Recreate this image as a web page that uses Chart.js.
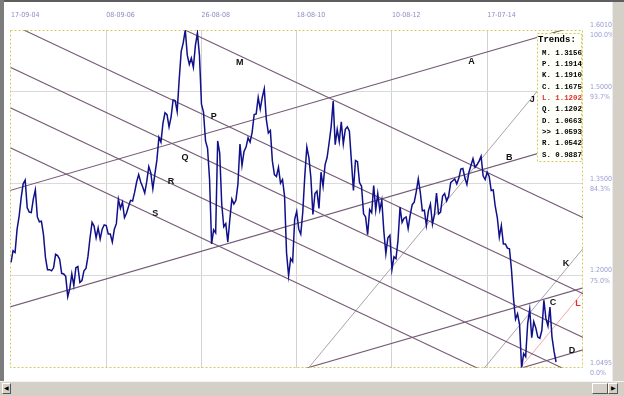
<!DOCTYPE html>
<html><head><meta charset="utf-8">
<script src="https://cdn.jsdelivr.net/npm/chart.js@4.4.1/dist/chart.umd.min.js"></script>
<style>
html,body{margin:0;padding:0;background:#fff;}
#wrap{position:relative;width:624px;height:396px;overflow:hidden;background:#fff;}
canvas{position:absolute;left:0;top:0;}
.f{position:absolute;box-sizing:border-box;}
</style></head><body>
<div id="wrap">
<canvas id="c" width="624" height="396"></canvas>
<div class="f" style="left:0;top:0;width:624px;height:2px;background:#5e5e5e"></div>
<div class="f" style="left:0;top:0;width:4px;height:382px;background:#7c7c7c"></div>
<div class="f" style="left:612px;top:2px;width:12px;height:380px;background:#d4d0c8;border-left:1px solid #ececec"></div>
<div class="f" style="left:0;top:381px;width:624px;height:15px;background:#d4d0c8;border-top:1px solid #f4f4f4"></div>
<div class="f" style="left:2px;top:383px;width:9px;height:11px;background:#d4d0c8;border:1px solid;border-color:#fff #555 #555 #fff;font:6px sans-serif;line-height:9px;text-align:center;color:#000">&#9664;</div>
<div class="f" style="left:592px;top:383px;width:16px;height:11px;background:#d4d0c8;border:1px solid;border-color:#fff #555 #555 #fff"></div>
<div class="f" style="left:608px;top:383px;width:10px;height:11px;background:#d4d0c8;border:1px solid;border-color:#fff #555 #555 #fff;font:6px sans-serif;line-height:9px;text-align:center;color:#000">&#9654;</div>
</div>
<script>
// ---- data ----
const xTickIndex = [0, 47, 94, 141, 188, 235];
const xTickLabels = ['17-09-04', '08-09-06', '26-08-08', '18-08-10', '10-08-12', '17-07-14'];
const yTickValues = [1.6010, 1.5000, 1.3500, 1.2000, 1.0495];
const yTickPrice = ['1.6010', '1.5000', '1.3500', '1.2000', '1.0495'];
const yTickPercent = ['100.0%', '93.7%', '84.3%', '75.0%', '0.0%'];

// EUR/USD, roughly two readings per month, Sep 2004 .. Nov 2015
const priceValues = [
  1.222, 1.241, 1.238, 1.276, 1.297, 1.327, 1.350, 1.356,
  1.311, 1.304, 1.303, 1.325, 1.340, 1.296, 1.288, 1.289, 1.268, 1.230, 1.210, 1.210, 1.208, 1.213, 1.235, 1.233, 1.227, 1.204, 1.203, 1.199, 1.166, 1.179, 1.203, 1.184,
  1.213, 1.215, 1.189, 1.192, 1.208, 1.212, 1.232, 1.262, 1.287, 1.281, 1.262, 1.278, 1.260, 1.276, 1.283, 1.282, 1.268, 1.268, 1.255, 1.276, 1.285, 1.325, 1.310, 1.320,
  1.295, 1.302, 1.313, 1.323, 1.322, 1.336, 1.353, 1.365, 1.353, 1.345, 1.335, 1.354, 1.378, 1.368, 1.342, 1.366, 1.389, 1.426, 1.418, 1.449, 1.466, 1.463, 1.443, 1.459,
  1.487, 1.486, 1.468, 1.520, 1.566, 1.580, 1.601, 1.560, 1.545, 1.555, 1.540, 1.576, 1.596, 1.560, 1.480, 1.467, 1.420, 1.408, 1.357, 1.252, 1.275, 1.270, 1.420, 1.400,
  1.317, 1.280, 1.285, 1.255, 1.292, 1.325, 1.317, 1.323, 1.350, 1.415, 1.380, 1.403, 1.410, 1.425, 1.418, 1.434, 1.463, 1.464, 1.491, 1.472, 1.491, 1.505, 1.455, 1.433,
  1.437, 1.387, 1.365, 1.362, 1.377, 1.351, 1.357, 1.330, 1.237, 1.200, 1.228, 1.223, 1.292, 1.305, 1.276, 1.268, 1.304, 1.363, 1.410, 1.393, 1.360, 1.300, 1.334, 1.338,
  1.310, 1.369, 1.346, 1.381, 1.393, 1.417, 1.443, 1.485, 1.414, 1.439, 1.419, 1.451, 1.415, 1.439, 1.443, 1.436, 1.387, 1.339, 1.388, 1.386, 1.352, 1.346, 1.301, 1.296,
  1.267, 1.308, 1.303, 1.347, 1.307, 1.334, 1.307, 1.323, 1.273, 1.236, 1.262, 1.266, 1.210, 1.231, 1.228, 1.258, 1.312, 1.287, 1.294, 1.296, 1.277, 1.299, 1.316, 1.320,
  1.337, 1.358, 1.336, 1.306, 1.307, 1.282, 1.306, 1.317, 1.284, 1.300, 1.335, 1.301, 1.304, 1.330, 1.334, 1.322, 1.330, 1.352, 1.355, 1.358, 1.350, 1.359, 1.374, 1.375,
  1.360, 1.349, 1.369, 1.380, 1.391, 1.377, 1.381, 1.387, 1.395, 1.363, 1.357, 1.369, 1.362, 1.339, 1.340, 1.313, 1.295, 1.263, 1.282, 1.252, 1.252, 1.245, 1.244, 1.210,
  1.163, 1.129, 1.138, 1.120, 1.0495, 1.073, 1.068, 1.122, 1.145, 1.099, 1.125, 1.115, 1.100, 1.098, 1.111, 1.160, 1.130, 1.118, 1.149, 1.100, 1.077, 1.0593
];

// trend lines: [sample index, price] at both ends
const trendNames = ['M', 'P', 'Q', 'R', 'S', 'A', 'B', 'J', 'K', 'C', 'L', 'D'];
const trendFrom = [[85.9, 1.601], [-1, 1.6124], [-1, 1.5412], [-1, 1.4752], [-1, 1.4097], [-1, 1.3386], [-1, 1.1488], [140, 1.0223], [230, 1.0351], [140, 1.0437], [250, 1.0442], [248, 1.0457]];
const trendTo = [[283, 1.2938], [283, 1.1696], [283, 1.0984], [283, 1.0324], [283, 0.9669], [283, 1.6113], [283, 1.4215], [283, 1.5943], [283, 1.2471], [283, 1.1809], [283, 1.1762], [283, 1.0797]];
const trendLabelAt = [[112.9, 1.5475], [100.1, 1.4591], [85.9, 1.3936], [79.0, 1.3543], [71.2, 1.3020], [227.3, 1.5491], [245.9, 1.3936], [257.2, 1.4869], [273.9, 1.2201], [267.5, 1.1563], [279.8, 1.1547], [276.9, 1.0777]];

const legendNames = ['M.', 'P.', 'K.', 'C.', 'L.', 'Q.', 'D.', '>>', 'R.', 'S.'];
const legendValues = ['1.3156', '1.1914', '1.1910', '1.1675', '1.1202', '1.1202', '1.0663', '1.0593', '1.0542', '0.9887'];

// ---- styles ----
const lineStyle = { M: '#765a76', P: '#765a76', Q: '#765a76', R: '#765a76', S: '#765a76', A: '#765a76', B: '#765a76', C: '#765a76', D: '#765a76', J: '#a396a3', K: '#a396a3', L: '#f2a0a0' };

const datasets = [{
  data: priceValues.map((v, i) => ({ x: i, y: v })),
  borderColor: '#10108a', borderWidth: 1.5, pointRadius: 0, tension: 0, order: 0, clip: 0
}];
trendNames.forEach((n, k) => {
  datasets.push({
    data: [{ x: trendFrom[k][0], y: trendFrom[k][1] }, { x: trendTo[k][0], y: trendTo[k][1] }],
    borderColor: lineStyle[n], borderWidth: (n === 'J' || n === 'K' || n === 'L') ? 0.9 : 1.1,
    pointRadius: 0, order: 1, clip: 0
  });
});

const overlay = {
  id: 'overlay',
  afterDatasetsDraw(chart) {
    const { ctx, chartArea: a, scales: { x, y } } = chart;
    ctx.save();
    ctx.font = 'bold 9px "Liberation Sans", Arial, sans-serif';
    ctx.textAlign = 'center'; ctx.textBaseline = 'middle';
    trendNames.forEach((n, k) => {
      ctx.fillStyle = n === 'L' ? '#e03030' : '#111';
      ctx.fillText(n, x.getPixelForValue(trendLabelAt[k][0]), y.getPixelForValue(trendLabelAt[k][1]));
    });
    // plot border
    ctx.setLineDash([2, 2]);
    ctx.strokeStyle = '#d9c860'; ctx.lineWidth = 1;
    ctx.strokeRect(a.left + 0.5, a.top + 0.5, a.right - a.left - 1, a.bottom - a.top - 1);
    // legend box
    const bx = a.right - 46, by = a.top + 3, bw = 45, bh = 129;
    ctx.setLineDash([]);
    ctx.fillStyle = '#fffffa';
    ctx.fillRect(bx, by, bw, bh);
    ctx.setLineDash([2, 2]);
    ctx.strokeStyle = '#d9c860';
    ctx.strokeRect(bx + 0.5, by + 0.5, bw - 1, bh - 1);
    ctx.setLineDash([]);
    ctx.textAlign = 'left';
    ctx.fillStyle = '#000';
    ctx.font = 'bold 9px "Liberation Mono", "Courier New", monospace';
    ctx.fillText('Trends:', bx + 1, by + 7);
    ctx.font = 'bold 7.4px "Liberation Mono", "Courier New", monospace';
    legendNames.forEach((n, k) => {
      ctx.fillStyle = n === 'L.' ? '#e03030' : '#000';
      ctx.fillText(n + ' ' + legendValues[k], bx + 5, by + 20 + k * 11.3);
    });
    ctx.restore();
  }
};

new Chart(document.getElementById('c'), {
  type: 'line',
  data: { datasets },
  options: {
    responsive: false, animation: false, devicePixelRatio: 1,
    layout: { padding: { left: 7, top: 0, right: 0, bottom: 28 } },
    plugins: { legend: { display: false }, tooltip: { enabled: false } },
    scales: {
      x: {
        type: 'linear', position: 'top', min: -0.5, max: 282.3,
        afterBuildTicks: s => { s.ticks = xTickIndex.map(v => ({ value: v })); },
        afterFit: s => { s.height = 30; },
        ticks: {
          autoSkip: false, maxRotation: 0, align: 'start', padding: 11,
          color: '#8c8cc0', font: { size: 7, family: '"Liberation Sans Narrow", "DejaVu Sans Condensed", "Liberation Sans", sans-serif' },
          callback: (v, i) => xTickLabels[i]
        },
        grid: { drawTicks: false, color: c => c.index === 0 ? 'rgba(0,0,0,0)' : '#d2d2d2', lineWidth: 1 },
        border: { display: false }
      },
      y: {
        type: 'linear', position: 'right', min: 1.0495, max: 1.6010,
        afterBuildTicks: s => { s.ticks = yTickValues.map(v => ({ value: v })); },
        afterFit: s => { s.width = 41; },
        ticks: {
          autoSkip: false, padding: 7, color: '#9a9ad2',
          font: { size: 7, lineHeight: 1.45, family: '"Liberation Sans Narrow", "DejaVu Sans Condensed", "Liberation Sans", sans-serif' },
          callback: (v, i) => [yTickPrice[i], yTickPercent[i]]
        },
        grid: { drawTicks: false, color: c => (c.index === 0 || c.index === yTickValues.length - 1) ? 'rgba(0,0,0,0)' : '#dadada', lineWidth: 1 },
        border: { display: false }
      }
    }
  },
  plugins: [overlay]
});
</script>
</body></html>
